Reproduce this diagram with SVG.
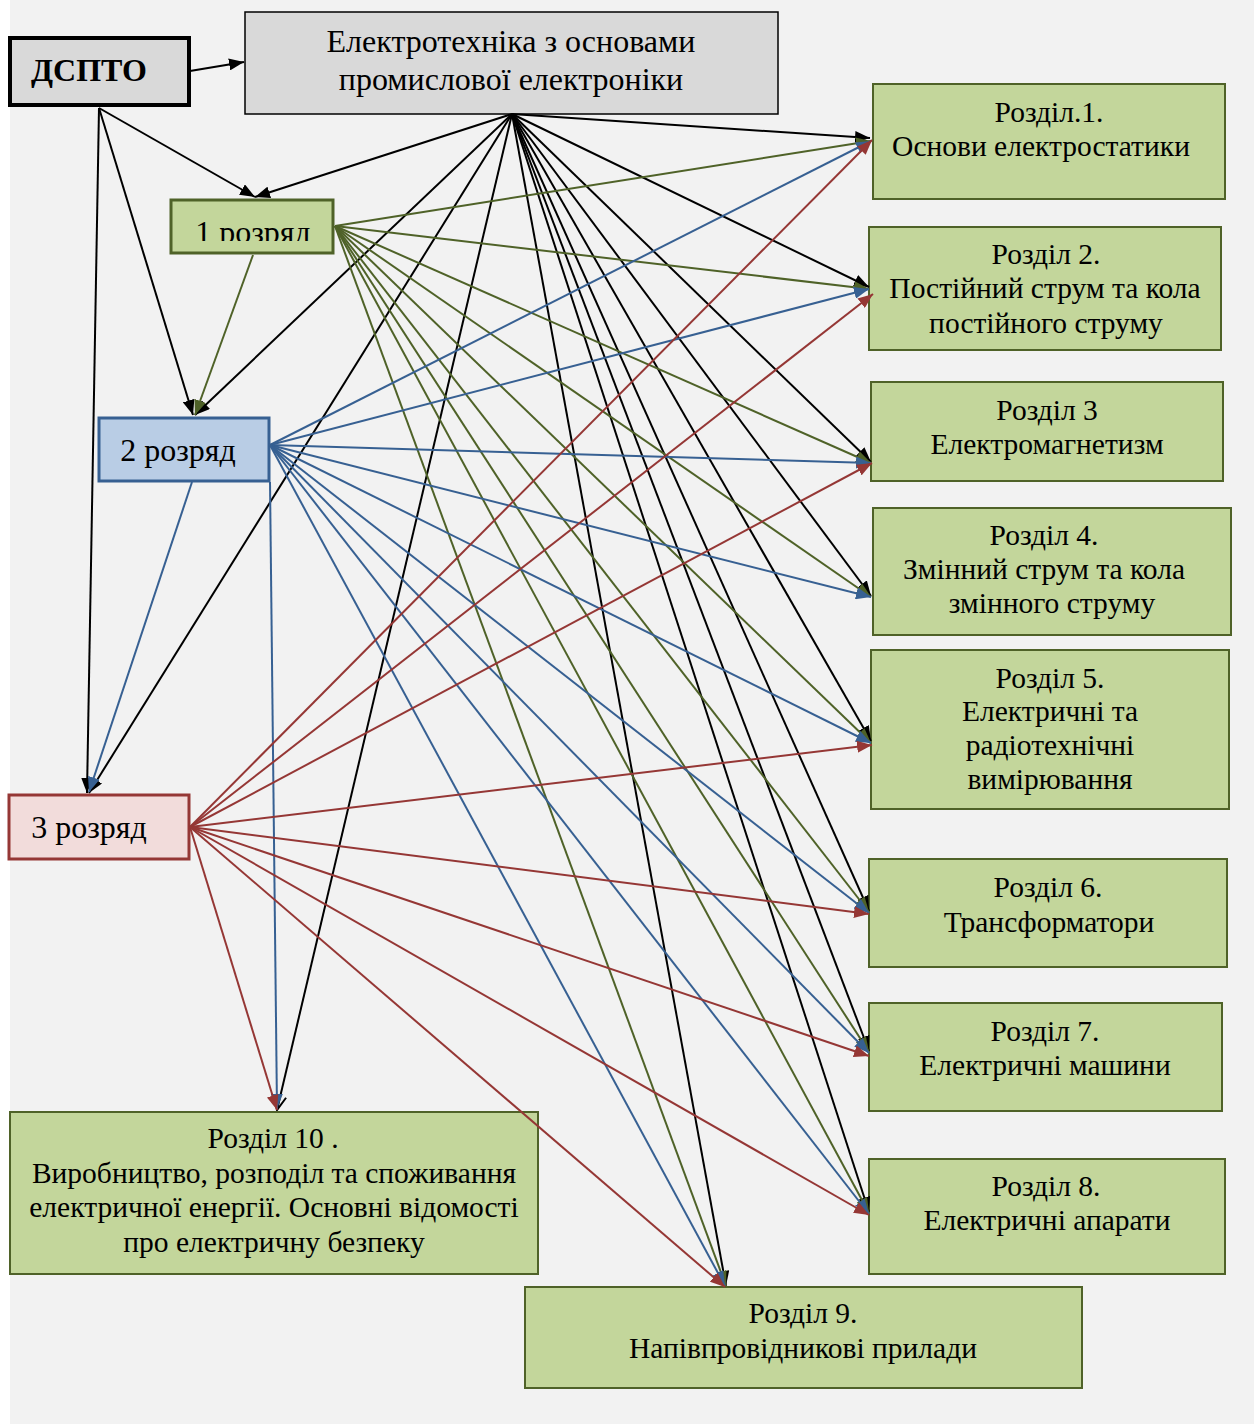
<svg xmlns="http://www.w3.org/2000/svg" width="1254" height="1425" viewBox="0 0 1254 1425">
<defs>
<style>
text{font-family:"Liberation Serif","Times New Roman",serif;font-size:29.5px;fill:#000;text-anchor:middle}
.sec{fill:#c3d69b;stroke:#4f6228;stroke-width:2}
.k{stroke:#000;stroke-width:2;fill:none}
.g{stroke:#4f6228;stroke-width:2;fill:none}
.b{stroke:#376092;stroke-width:2;fill:none}
.r{stroke:#953735;stroke-width:2;fill:none}
.big{font-size:32px}
</style>
<marker id="ak" markerUnits="userSpaceOnUse" markerWidth="16" markerHeight="12" refX="15" refY="6" orient="auto"><path d="M0,0 L15,6 L0,12 z" fill="#000"/></marker>
<marker id="ako" markerUnits="userSpaceOnUse" markerWidth="16" markerHeight="14" refX="15" refY="7" orient="auto"><path d="M1,1 L15,7 L1,13" fill="none" stroke="#000" stroke-width="2"/></marker>
<marker id="ag" markerUnits="userSpaceOnUse" markerWidth="16" markerHeight="12" refX="15" refY="6" orient="auto"><path d="M0,0 L15,6 L0,12 z" fill="#4f6228"/></marker>
<marker id="ab" markerUnits="userSpaceOnUse" markerWidth="16" markerHeight="12" refX="15" refY="6" orient="auto"><path d="M0,0 L15,6 L0,12 z" fill="#376092"/></marker>
<marker id="ar" markerUnits="userSpaceOnUse" markerWidth="16" markerHeight="12" refX="15" refY="6" orient="auto"><path d="M0,0 L15,6 L0,12 z" fill="#953735"/></marker>
<clipPath id="c1"><rect x="171" y="200" width="162" height="41"/></clipPath>
</defs>
<rect x="0" y="0" width="1254" height="1425" fill="#ffffff"/>
<rect x="10" y="0" width="1244" height="1424" fill="#f2f2f2"/>

<g id="dspto">
<rect x="10" y="38" width="179" height="67" fill="#d9d9d9" stroke="#000" stroke-width="4"/>
<text x="89" y="81" style="font-weight:bold;font-size:32px">ДСПТО</text>
</g>
<g id="electro">
<rect x="245" y="12" width="533" height="102" fill="#d9d9d9" stroke="#000" stroke-width="1.5"/>
<text class="big" x="511" y="52">Електротехніка з основами</text>
<text class="big" x="511" y="90">промислової електроніки</text>
</g>
<g id="rank1">
<rect x="171" y="200" width="162" height="53" fill="#c3d69b" stroke="#4f6228" stroke-width="3"/>
<text class="big" x="253" y="243" clip-path="url(#c1)">1 розряд</text>
</g>
<g id="rank2">
<rect x="99" y="418" width="170" height="63" fill="#b9cde5" stroke="#376092" stroke-width="3"/>
<text class="big" x="178" y="461">2 розряд</text>
</g>
<g id="rank3">
<rect x="9" y="795" width="180" height="64" fill="#f2dcdb" stroke="#953735" stroke-width="3"/>
<text class="big" x="89" y="838">3 розряд</text>
</g>

<g id="s1">
<rect class="sec" x="873" y="84" width="352" height="115"/>
<text x="1049" y="122">Розділ.1.</text>
<text x="1041" y="156">Основи електростатики</text>
</g>
<g id="s2">
<rect class="sec" x="869" y="227" width="352" height="123"/>
<text x="1046" y="264">Розділ 2.</text>
<text x="1045" y="298">Постійний струм та кола</text>
<text x="1046" y="333">постійного струму</text>
</g>
<g id="s3">
<rect class="sec" x="871" y="382" width="352" height="99"/>
<text x="1047" y="420">Розділ 3</text>
<text x="1047" y="454">Електромагнетизм</text>
</g>
<g id="s4">
<rect class="sec" x="873" y="508" width="358" height="127"/>
<text x="1044" y="545">Розділ 4.</text>
<text x="1044" y="579">Змінний струм та кола</text>
<text x="1052" y="613">змінного струму</text>
</g>
<g id="s5">
<rect class="sec" x="871" y="650" width="358" height="159"/>
<text x="1050" y="688">Розділ 5.</text>
<text x="1050" y="721">Електричні та</text>
<text x="1050" y="755">радіотехнічні</text>
<text x="1050" y="789">вимірювання</text>
</g>
<g id="s6">
<rect class="sec" x="869" y="859" width="358" height="108"/>
<text x="1048" y="897">Розділ 6.</text>
<text x="1049" y="932">Трансформатори</text>
</g>
<g id="s7">
<rect class="sec" x="869" y="1003" width="353" height="108"/>
<text x="1045" y="1041">Розділ 7.</text>
<text x="1045" y="1075">Електричні машини</text>
</g>
<g id="s8">
<rect class="sec" x="869" y="1159" width="356" height="115"/>
<text x="1046" y="1196">Розділ 8.</text>
<text x="1047" y="1230">Електричні апарати</text>
</g>
<g id="s9">
<rect class="sec" x="525" y="1287" width="557" height="101"/>
<text x="803" y="1323">Розділ 9.</text>
<text x="803" y="1358">Напівпровідникові прилади</text>
</g>
<g id="s10">
<rect class="sec" x="10" y="1112" width="528" height="162"/>
<text x="273" y="1148">Розділ 10 .</text>
<text x="274" y="1183">Виробництво, розподіл та споживання</text>
<text x="274" y="1217">електричної енергії. Основні відомості</text>
<text x="274" y="1252">про електричну безпеку</text>
</g>

<g id="connectors">
<g id="black">
<line class="k" x1="190" y1="71" x2="244" y2="62" marker-end="url(#ak)"/>
<line class="k" x1="99" y1="108" x2="255" y2="197" marker-end="url(#ak)"/>
<line class="k" x1="99" y1="108" x2="193" y2="415" marker-end="url(#ak)"/>
<line class="k" x1="99" y1="108" x2="87" y2="793" marker-end="url(#ak)"/>
<line class="k" x1="512" y1="114" x2="255" y2="197" marker-end="url(#ak)"/>
<line class="k" x1="512" y1="114" x2="195" y2="415" marker-end="url(#ak)"/>
<line class="k" x1="512" y1="114" x2="89" y2="793" marker-end="url(#ak)"/>
<line class="k" x1="512" y1="114" x2="277" y2="1110" marker-end="url(#ako)"/>
<line class="k" x1="512" y1="114" x2="870" y2="138" marker-end="url(#ak)"/>
<line class="k" x1="512" y1="114" x2="869" y2="287" marker-end="url(#ak)"/>
<line class="k" x1="512" y1="114" x2="871" y2="462" marker-end="url(#ak)"/>
<line class="k" x1="512" y1="114" x2="871" y2="596" marker-end="url(#ak)"/>
<line class="k" x1="512" y1="114" x2="871" y2="741" marker-end="url(#ak)"/>
<line class="k" x1="512" y1="114" x2="869" y2="911" marker-end="url(#ak)"/>
<line class="k" x1="512" y1="114" x2="869" y2="1051" marker-end="url(#ak)"/>
<line class="k" x1="512" y1="114" x2="869" y2="1212" marker-end="url(#ak)"/>
<line class="k" x1="512" y1="114" x2="726" y2="1286" marker-end="url(#ak)"/>
</g>
<g id="green">
<line class="g" x1="253" y1="255" x2="195" y2="415" marker-end="url(#ag)"/>
<line class="g" x1="335" y1="226" x2="871" y2="141" marker-end="url(#ag)"/>
<line class="g" x1="335" y1="226" x2="869" y2="289" marker-end="url(#ag)"/>
<line class="g" x1="335" y1="226" x2="871" y2="463" marker-end="url(#ag)"/>
<line class="g" x1="335" y1="226" x2="871" y2="597" marker-end="url(#ag)"/>
<line class="g" x1="335" y1="226" x2="871" y2="743" marker-end="url(#ag)"/>
<line class="g" x1="335" y1="226" x2="869" y2="912" marker-end="url(#ag)"/>
<line class="g" x1="335" y1="226" x2="869" y2="1052" marker-end="url(#ag)"/>
<line class="g" x1="335" y1="226" x2="869" y2="1213" marker-end="url(#ag)"/>
<line class="g" x1="335" y1="226" x2="726" y2="1286" marker-end="url(#ag)"/>
</g>
<g id="blue">
<line class="b" x1="192" y1="482" x2="89" y2="792" marker-end="url(#ab)"/>
<line class="b" x1="270" y1="482" x2="277" y2="1109" marker-end="url(#ab)"/>
<line class="b" x1="270" y1="445" x2="871" y2="141" marker-end="url(#ab)"/>
<line class="b" x1="270" y1="445" x2="869" y2="289" marker-end="url(#ab)"/>
<line class="b" x1="270" y1="445" x2="871" y2="463" marker-end="url(#ab)"/>
<line class="b" x1="270" y1="445" x2="871" y2="597" marker-end="url(#ab)"/>
<line class="b" x1="270" y1="445" x2="871" y2="743" marker-end="url(#ab)"/>
<line class="b" x1="270" y1="445" x2="869" y2="913" marker-end="url(#ab)"/>
<line class="b" x1="270" y1="445" x2="869" y2="1053" marker-end="url(#ab)"/>
<line class="b" x1="270" y1="445" x2="869" y2="1214" marker-end="url(#ab)"/>
<line class="b" x1="270" y1="445" x2="725" y2="1286" marker-end="url(#ab)"/>
</g>
<g id="red">
<line class="r" x1="190" y1="827" x2="277" y2="1110" marker-end="url(#ar)"/>
<line class="r" x1="190" y1="827" x2="872" y2="140" marker-end="url(#ar)"/>
<line class="r" x1="190" y1="827" x2="873" y2="294" marker-end="url(#ar)"/>
<line class="r" x1="190" y1="827" x2="872" y2="463" marker-end="url(#ar)"/>
<line class="r" x1="190" y1="827" x2="872" y2="745" marker-end="url(#ar)"/>
<line class="r" x1="190" y1="827" x2="869" y2="914" marker-end="url(#ar)"/>
<line class="r" x1="190" y1="827" x2="869" y2="1056" marker-end="url(#ar)"/>
<line class="r" x1="190" y1="827" x2="869" y2="1215" marker-end="url(#ar)"/>
<line class="r" x1="190" y1="827" x2="725" y2="1287" marker-end="url(#ar)"/>
</g>
</g>
</svg>
